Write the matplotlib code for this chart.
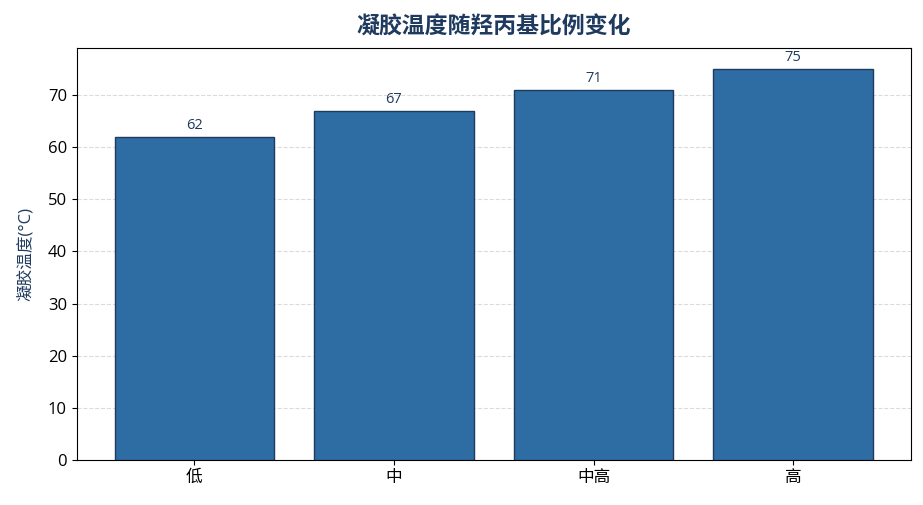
import matplotlib
matplotlib.use('Agg')
import matplotlib.pyplot as plt

plt.rcParams['font.family'] = ['Open Sans', 'Noto Sans CJK SC', 'DejaVu Sans']
plt.rcParams['axes.unicode_minus'] = False

# data
categories = ['低', '中', '中高', '高']
gel_temp = [62, 67, 71, 75]

fig, ax = plt.subplots(figsize=(9.23, 5.05), dpi=100)

bars = ax.bar(categories, gel_temp, width=0.8, color='#2e6da4',
              edgecolor='#1f3a5f', linewidth=1.0, zorder=3)

for b, v in zip(bars, gel_temp):
    ax.text(b.get_x() + b.get_width() / 2, v + 0.7, f'{v}',
            ha='center', va='bottom', fontsize=10.5, color='#1f3a5f')

ax.set_ylim(0, 79)
ax.set_ylabel('凝胶温度(°C)', fontsize=12, color='#1f3a5f', labelpad=10)
ax.set_title('凝胶温度随羟丙基比例变化', fontsize=16.5, fontweight='bold',
             color='#1f3a5f', pad=10)
ax.yaxis.grid(True, linestyle='--', color='#cccccc', alpha=0.7, zorder=0)
ax.tick_params(labelsize=12)

fig.subplots_adjust(left=0.083, right=0.987, top=0.905, bottom=0.089)
fig.savefig('out.png', dpi=100)
